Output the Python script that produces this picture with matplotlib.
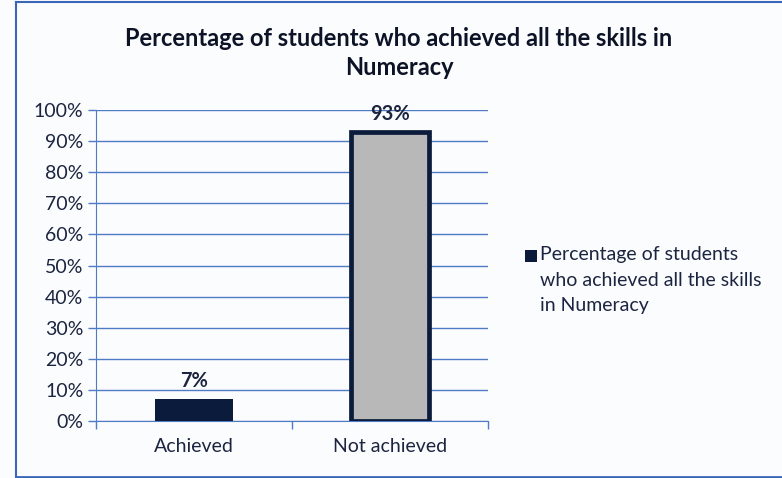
import matplotlib.pyplot as plt
from matplotlib.patches import Rectangle
from matplotlib.lines import Line2D

plt.rcParams['font.family'] = ['Lato', 'DejaVu Sans']

# Data
categories = ['Achieved', 'Not achieved']
values = [0.07, 0.93]
value_labels = ['7%', '93%']
series_name = 'Percentage of students\nwho achieved all the skills\nin Numeracy'
title = 'Percentage of students who achieved all the skills in\nNumeracy'
y_ticks = [i / 10 for i in range(11)]

navy = '#0b1b3b'
grid_blue = '#4f7bc4'
text_col = '#1c2540'

fig = plt.figure(figsize=(7.82, 4.78), dpi=100)
fig.patch.set_facecolor('#fbfcfe')
ax = fig.add_axes([96 / 782, 1 - 421 / 478, 392 / 782, 311 / 478])
ax.set_facecolor('#fbfcfe')

x = list(range(len(categories)))
bars = ax.bar(x, values, width=0.4, color=[navy, '#b8b8b8'],
              edgecolor=navy, linewidth=[0, 3.4], zorder=3)

for xi, v, lab in zip(x, values, value_labels):
    ax.text(xi, v + 0.025, lab, ha='center', va='bottom', fontsize=14.5,
            fontweight='bold', color=text_col)

ax.set_xlim(-0.5, 1.5)
ax.set_ylim(0, 1)
ax.set_yticks(y_ticks)
ax.set_yticklabels([f'{int(round(t * 100))}%' for t in y_ticks])
ax.yaxis.grid(True, color=grid_blue, linewidth=1)
ax.set_axisbelow(True)

ax.set_xticks([-0.5, 0.5, 1.5])
ax.set_xticklabels([])
ax.set_xticks(x, minor=True)
ax.set_xticklabels(categories, minor=True)
ax.tick_params(axis='x', which='minor', length=0, pad=12, labelsize=14,
               labelcolor=text_col)
ax.tick_params(axis='x', which='major', length=6, color=grid_blue, width=1)
ax.tick_params(axis='y', length=6, color=grid_blue, width=1, labelsize=14,
               labelcolor=text_col, pad=3)

for side in ['top', 'right']:
    ax.spines[side].set_visible(False)
ax.spines['left'].set_color(grid_blue)
ax.spines['bottom'].set_color(grid_blue)

fig.text(399 / 782, 1 - 53 / 478, title, ha='center', va='center',
         fontsize=17, fontweight='bold', color='#0d1326', linespacing=1.3)

# legend: key square aligned with the first line of the label
fig.add_artist(Rectangle((525 / 782, 1 - 262 / 478), 12 / 782, 12 / 478,
                         transform=fig.transFigure, facecolor=navy,
                         edgecolor='none'))
fig.text(540 / 782, 1 - 246 / 478, series_name, ha='left', va='top',
         fontsize=14, color=text_col, linespacing=1.62)

# outer frame
frame_col = '#3a66b8'
fig.add_artist(Line2D([16 / 782, 16 / 782], [1 - 477 / 478, 1 - 2 / 478],
                      transform=fig.transFigure, color=frame_col, linewidth=1.5))
fig.add_artist(Line2D([16 / 782, 1], [1 - 2 / 478, 1 - 2 / 478],
                      transform=fig.transFigure, color=frame_col, linewidth=1.5))
fig.add_artist(Line2D([16 / 782, 1], [1 - 477 / 478, 1 - 477 / 478],
                      transform=fig.transFigure, color=frame_col, linewidth=2))

fig.savefig('out.png', dpi=100, facecolor=fig.get_facecolor())
